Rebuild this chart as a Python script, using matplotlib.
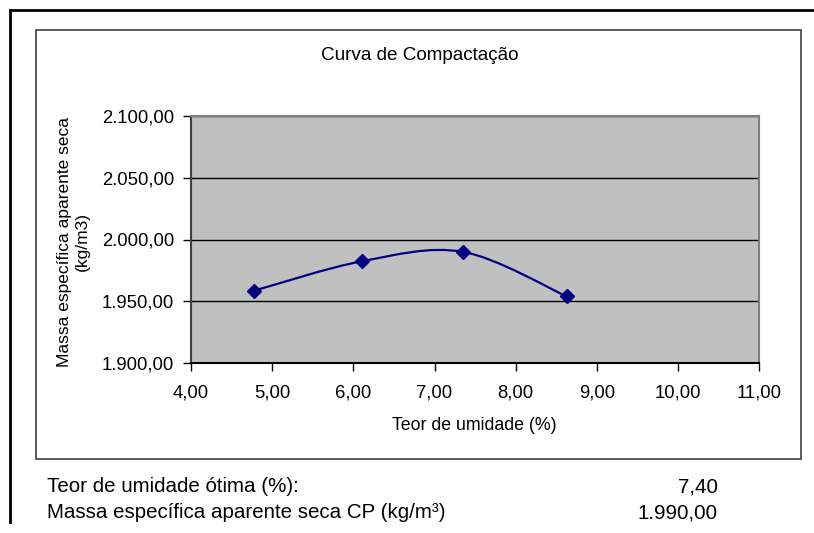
import matplotlib
matplotlib.use('Agg')
import matplotlib.pyplot as plt
from matplotlib.path import Path
from matplotlib.patches import PathPatch, Rectangle
from matplotlib.lines import Line2D
from matplotlib.ticker import FuncFormatter, MultipleLocator

plt.rcParams['font.family'] = ['Liberation Sans', 'DejaVu Sans']

# dados do ensaio
umidade = [4.77, 6.11, 7.35, 8.63]
massa = [1958.5, 1982.5, 1990.0, 1954.0]
umidade_otima = 7.40
massa_cp = 1990.00

W, H = 814, 533

def fx(px):
	return px / W

def fy(py):
	return 1 - py / H

def br(v, pos=None):
	s = '{:,.2f}'.format(v)
	return s.replace(',', 'X').replace('.', ',').replace('X', '.')

def excel_smooth(xs, ys):
	# curva suavizada tipo Excel (Bezier com tangentes Catmull-Rom)
	pts = list(zip(xs, ys))
	n = len(pts)
	verts = [pts[0]]
	codes = [Path.MOVETO]
	for i in range(n - 1):
		p0 = pts[i - 1] if i > 0 else pts[i]
		p1 = pts[i]
		p2 = pts[i + 1]
		p3 = pts[i + 2] if i + 2 < n else pts[i + 1]
		c1 = (p1[0] + (p2[0] - p0[0]) / 6, p1[1] + (p2[1] - p0[1]) / 6)
		c2 = (p2[0] - (p3[0] - p1[0]) / 6, p2[1] - (p3[1] - p1[1]) / 6)
		verts += [c1, c2, p2]
		codes += [Path.CURVE4] * 3
	return Path(verts, codes)

fig = plt.figure(figsize=(W / 100, H / 100), dpi=100)

# moldura externa
fig.add_artist(Line2D([fx(10), fx(814)], [fy(10), fy(10)], color='black', lw=2))
fig.add_artist(Line2D([fx(10), fx(10)], [fy(10), fy(522)], color='black', lw=2))
# moldura do grafico
fig.add_artist(Rectangle((fx(36), fy(459)), fx(801) - fx(36), fy(30) - fy(459),
	fill=False, edgecolor='#404040', lw=1.2))

left, top, right, bottom = 191, 115.7, 759.3, 363.3
ax = fig.add_axes([fx(left), fy(bottom), fx(right) - fx(left), fy(top) - fy(bottom)])
ax.set_facecolor('#C0C0C0')
ax.set_xlim(4, 11)
ax.set_ylim(1900, 2100)
ax.xaxis.set_major_locator(MultipleLocator(1))
ax.yaxis.set_major_locator(MultipleLocator(50))
ax.xaxis.set_major_formatter(FuncFormatter(br))
ax.yaxis.set_major_formatter(FuncFormatter(br))
ax.tick_params(labelsize=13.3, length=6, width=1, color='black')
ax.tick_params(axis='x', pad=9)
ax.tick_params(axis='y', pad=6)
ax.grid(axis='y', color='black', lw=1)
ax.set_axisbelow(True)
for s in ['top', 'right']:
	ax.spines[s].set_color('#808080')
	ax.spines[s].set_linewidth(1.5)
ax.spines['left'].set_color('#404040')
ax.spines['bottom'].set_color('black')
ax.spines['left'].set_linewidth(1.5)
ax.spines['bottom'].set_linewidth(1.5)

ax.add_patch(PathPatch(excel_smooth(umidade, massa), fill=False, edgecolor='#000080', lw=1.6, zorder=3))
ax.plot(umidade, massa, linestyle='none', marker='D', markersize=7.5, color='#000080', zorder=4)

fig.text(fx(420), fy(55), 'Curva de Compactação', ha='center', va='center', fontsize=13.6)
fig.text(fx(474), fy(425), 'Teor de umidade (%)', ha='center', va='center', fontsize=12.8)
fig.text(fx(73.5), fy(242), 'Massa específica aparente seca\n(kg/m3)', ha='center', va='center',
	rotation=90, fontsize=12.5, linespacing=1.3)

fig.text(fx(47), fy(487), 'Teor de umidade ótima (%):', ha='left', va='center', fontsize=14.8)
fig.text(fx(47), fy(513), 'Massa específica aparente seca CP (kg/m³)', ha='left', va='center', fontsize=14.8)
fig.text(fx(718), fy(487), br(umidade_otima), ha='right', va='center', fontsize=14.8)
fig.text(fx(718), fy(513), br(massa_cp), ha='right', va='center', fontsize=14.8)

fig.savefig('out.png', dpi=100)
